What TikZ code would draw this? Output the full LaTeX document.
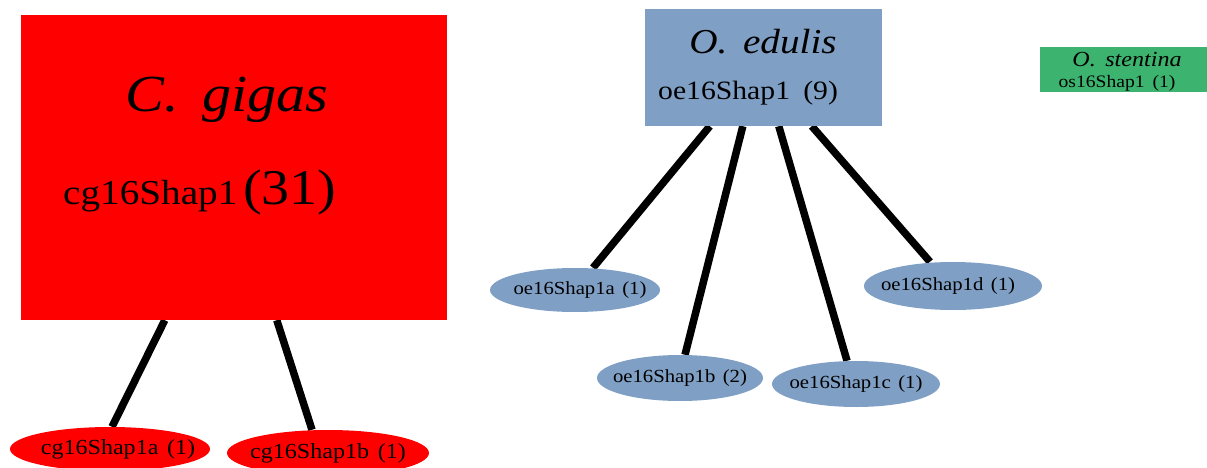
\documentclass[tikz,border=0pt]{standalone}
\usepackage{fontspec}
\setmainfont{Liberation Serif}[FakeStretch=1.12]
\usetikzlibrary{shapes.geometric,backgrounds}
\definecolor{cgred}{RGB}{255,0,0}
\definecolor{oeblue}{RGB}{127,159,196}
\definecolor{osgreen}{RGB}{60,179,110}
\newcommand{\zw}[1]{\makebox[0pt]{#1}}
\begin{document}
\begin{tikzpicture}[x=1pt,y=-1pt,
  box/.style={rectangle,inner sep=0pt,draw=none},
  oval/.style={ellipse,inner sep=0pt,draw=none},
  lbl/.style={inner sep=0pt,text=black},
  link/.style={line width=7.5pt,black}]
\useasboundingbox (0,0) rectangle (1207,468);
% boxes
\node[box,fill=cgred,minimum width=426pt,minimum height=305pt] (cg) at (234,167.5) {};
\node[box,fill=oeblue,minimum width=237pt,minimum height=117pt] (oe) at (763.5,67.5) {};
\node[box,fill=osgreen,minimum width=167pt,minimum height=45pt] (os) at (1123.5,69.5) {};
% box texts
\node[lbl,font=\fontsize{52}{58}\selectfont\itshape] (cgt) at (227,100) {C.\, gigas};
\node[lbl,font=\fontsize{35}{40}\selectfont,anchor=west] (cgs) at (63,192) {cg16Shap1\,{\fontsize{50}{54}\selectfont(31)}};
\node[lbl,font=\fontsize{35}{40}\selectfont\itshape] (oet) at (763,42) {O.\, edulis};
\node[lbl,font=\fontsize{26.5}{30}\selectfont,anchor=west] (oes) at (658,93) {oe16Shap1\hspace{0.5em}(9)};
\node[lbl,font=\fontsize{21.5}{24}\selectfont\itshape] (ost) at (1127,60) {O.\, stentina};
\node[lbl,font=\fontsize{17.5}{20}\selectfont] (oss) at (1117,83) {os16Shap1\hspace{0.45em}(1)};
% ellipses
\node[oval,fill=cgred,minimum width=200pt,minimum height=44pt,font=\fontsize{21.5}{24}\selectfont] (cga) at (110,449) {\zw{\hspace{16pt}cg16Shap1a\hspace{0.4em}(1)}};
\node[oval,fill=cgred,minimum width=202pt,minimum height=46pt,font=\fontsize{21.5}{24}\selectfont] (cgb) at (328,453) {\zw{cg16Shap1b\hspace{0.4em}(1)}};
\node[oval,fill=oeblue,minimum width=170pt,minimum height=44pt,font=\fontsize{18.5}{21}\selectfont] (oea) at (575,290) {\zw{\hspace{10pt}oe16Shap1a\hspace{0.4em}(1)}};
\node[oval,fill=oeblue,minimum width=166pt,minimum height=46pt,font=\fontsize{18.5}{21}\selectfont] (oeb) at (680,378) {\zw{oe16Shap1b\hspace{0.4em}(2)}};
\node[oval,fill=oeblue,minimum width=168pt,minimum height=46pt,font=\fontsize{18.5}{21}\selectfont] (oec) at (856,384) {\zw{oe16Shap1c\hspace{0.4em}(1)}};
\node[oval,fill=oeblue,minimum width=178pt,minimum height=48pt,font=\fontsize{18.5}{21}\selectfont] (oed) at (953,286) {\zw{oe16Shap1d\hspace{0.4em}(1)\hspace{10pt}}};
% connectors
\begin{scope}[on background layer]
\draw[link] ([xshift=144pt]cg.south west) -- ([xshift=2pt]cga.north);
\draw[link] ([xshift=256pt]cg.south west) -- ([xshift=-16pt]cgb.north);
\draw[link] ([xshift=65pt]oe.south west) -- ([xshift=18pt]oea.north);
\draw[link] ([xshift=98pt]oe.south west) -- ([xshift=5pt]oeb.north);
\draw[link] ([xshift=134pt]oe.south west) -- ([xshift=-9pt]oec.north);
\draw[link] ([xshift=167pt]oe.south west) -- ([xshift=-23pt]oed.north);
\end{scope}
\end{tikzpicture}
\end{document}
